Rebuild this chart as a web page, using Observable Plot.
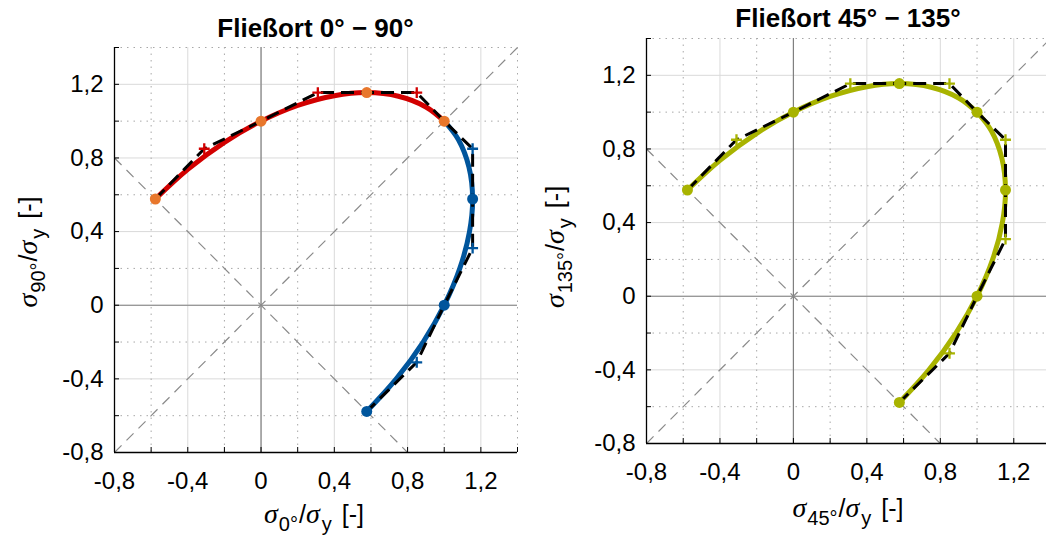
<!DOCTYPE html>
<html><head><meta charset="utf-8">
<script src="https://cdn.jsdelivr.net/npm/d3@7"></script>
<script src="https://cdn.jsdelivr.net/npm/@observablehq/plot@0.6"></script>
<style>
html,body{margin:0;padding:0;background:#fff;overflow:hidden}
#wrap{position:relative;width:1046px;height:543px;overflow:hidden;background:#fff;font-family:"Liberation Sans",Arial,sans-serif}
#wrap > svg{position:absolute}
</style></head><body><div id="wrap"></div>
<script>
// ---- data ----
const majorTicks = [-0.8, -0.4, 0, 0.4, 0.8, 1.2];
const minorTicks = [-0.6, -0.2, 0.2, 0.6, 1.0, 1.4];
const allTicks = [-0.8, -0.6, -0.4, -0.2, 0, 0.2, 0.4, 0.6, 0.8, 1.0, 1.2, 1.4];
const axisDomain = [-0.8, 1.4];
const diagX = [-0.8, 1.4], diagY = [-0.8, 1.4];
const antiX = [-0.8, 0.8], antiY = [0.8, -0.8];
// curve read along the upper arc (0°-side up to the equi-biaxial point)
const upperArcX = [-0.577, -0.4, -0.2, 0, 0.2, 0.4, 0.577, 0.75, 0.9, 1.0];
const upperArcY = [0.577, 0.738, 0.885, 1.0, 1.085, 1.138, 1.155, 1.135, 1.077, 1.0];
// curve read along the lower arc
const lowerArcX = [1.0, 1.077, 1.135, 1.155, 1.138, 1.085, 1.0, 0.885, 0.738, 0.577];
const lowerArcY = [1.0, 0.9, 0.75, 0.577, 0.4, 0.2, 0, -0.2, -0.4, -0.577];
const upperDotX = [-0.577, 0, 0.577, 1.0];
const upperDotY = [0.577, 1.0, 1.155, 1.0];
const lowerDotX = [1.155, 1.0, 0.577];
const lowerDotY = [0.577, 0, -0.577];
const upperPlusX = [-0.31, 0.31, 0.85];
const upperPlusY = [0.85, 1.155, 1.155];
const lowerPlusX = [1.155, 1.155, 0.85];
const lowerPlusY = [0.85, 0.31, -0.31];
const polyX = [-0.577, -0.31, 0, 0.31, 0.577, 0.85, 1.0, 1.155, 1.155, 1.155, 1.0, 0.85, 0.577];
const polyY = [0.577, 0.85, 1.0, 1.155, 1.155, 1.155, 1.0, 0.85, 0.577, 0.31, 0, -0.31, -0.577];

const RED = "#d20000", ORANGE = "#e8772c", BLUE = "#00559c", OLIVE = "#a8b300";

const pts = (xs, ys) => xs.map((x, i) => ({x, y: ys[i]}));
const fmt = d => d === 0 ? "0" : (d < 0 ? "-" : "") + Math.abs(d).toFixed(1).replace(".", ",");

function panel({left, w, h, ml, mr, mt, mb, curves, dots, pluses}) {
  const pw = w - ml - mr, ph = h - mt - mb;
  const marks = [
    Plot.ruleX(majorTicks, {stroke: "#dadada", strokeWidth: 1}),
    Plot.ruleY(majorTicks, {stroke: "#dadada", strokeWidth: 1}),
    Plot.ruleX(minorTicks, {stroke: "#a8a8a8", strokeWidth: 1, strokeDasharray: "1.5,5"}),
    Plot.ruleY(minorTicks, {stroke: "#a8a8a8", strokeWidth: 1, strokeDasharray: "1.5,5"}),
    Plot.ruleX([0], {stroke: "#808080", strokeWidth: 1.2}),
    Plot.ruleY([0], {stroke: "#808080", strokeWidth: 1.2}),
    Plot.line(pts(diagX, diagY), {x: "x", y: "y", stroke: "#8a8a8a", strokeWidth: 1.2, strokeDasharray: "10,7", strokeLinecap: "butt"}),
    Plot.line(pts(antiX, antiY), {x: "x", y: "y", stroke: "#8a8a8a", strokeWidth: 1.2, strokeDasharray: "10,7", strokeLinecap: "butt"}),
    Plot.ruleX([axisDomain[0]], {stroke: "black", strokeWidth: 1.3}),
    Plot.ruleY([axisDomain[0]], {stroke: "black", strokeWidth: 1.3}),
    Plot.tickX(allTicks, {x: d => d, stroke: "black", strokeWidth: 1, insetTop: ph - 5}),
    Plot.tickY(allTicks, {y: d => d, stroke: "black", strokeWidth: 1, insetRight: pw - 5}),
    Plot.axisX({ticks: majorTicks, tickFormat: fmt, tickSize: 0, tickPadding: 19, fontSize: 24, label: null, fill: "black"}),
    Plot.axisY({ticks: majorTicks, tickFormat: fmt, tickSize: 0, tickPadding: 11, fontSize: 24, label: null, fill: "black"}),
  ];
  for (const c of curves) marks.push(Plot.line(pts(c.xs, c.ys), {x: "x", y: "y", stroke: c.color, strokeWidth: 5, curve: "catmull-rom"}));
  marks.push(Plot.line(pts(polyX, polyY), {x: "x", y: "y", stroke: "black", strokeWidth: 3, strokeDasharray: "13,7", strokeLinecap: "butt"}));
  for (const d of dots) marks.push(Plot.dot(pts(d.xs, d.ys), {x: "x", y: "y", fill: d.color, r: 5.5}));
  for (const p of pluses) marks.push(Plot.dot(pts(p.xs, p.ys), {x: "x", y: "y", symbol: "plus", stroke: p.color, strokeWidth: 2.3, r: 3.6}));
  const svg = Plot.plot({
    width: w, height: h, marginLeft: ml, marginRight: mr, marginTop: mt, marginBottom: mb,
    x: {domain: axisDomain, axis: null},
    y: {domain: axisDomain, axis: null},
    style: {fontFamily: "Liberation Sans, Arial, sans-serif", background: "transparent", overflow: "visible"},
    marks
  });
  svg.style.left = left + "px";
  svg.style.top = "0px";
  document.getElementById("wrap").appendChild(svg);
}

panel({left: 0, w: 530, h: 543, ml: 114, mr: 13, mt: 47, mb: 91,
  curves: [{xs: lowerArcX, ys: lowerArcY, color: BLUE}, {xs: upperArcX, ys: upperArcY, color: RED}],
  dots: [{xs: lowerDotX, ys: lowerDotY, color: BLUE}, {xs: upperDotX, ys: upperDotY, color: ORANGE}],
  pluses: [{xs: upperPlusX, ys: upperPlusY, color: RED}, {xs: lowerPlusX, ys: lowerPlusY, color: BLUE}]
});
panel({left: 530, w: 530, h: 543, ml: 116, mr: 10, mt: 38, mb: 100,
  curves: [{xs: upperArcX.concat(lowerArcX), ys: upperArcY.concat(lowerArcY), color: OLIVE}],
  dots: [{xs: upperDotX.concat(lowerDotX), ys: upperDotY.concat(lowerDotY), color: OLIVE}],
  pluses: [{xs: upperPlusX.concat(lowerPlusX), ys: upperPlusY.concat(lowerPlusY), color: OLIVE}]
});

// ---- text overlay ----
const ov = d3.select("#wrap").append("svg")
  .attr("width", 1046).attr("height", 543)
  .style("left", "0px").style("top", "0px")
  .attr("font-family", "Liberation Sans, Arial, sans-serif");

function title(x, y, txt) {
  ov.append("text").attr("x", x).attr("y", y).attr("text-anchor", "middle")
    .attr("font-size", 26).attr("font-weight", "bold").attr("fill", "black").text(txt);
}
function axLabel(x, y, rot, sub) {
  const t = ov.append("text").attr("x", x).attr("y", y).attr("text-anchor", "middle")
    .attr("font-size", 25).attr("fill", "black");
  if (rot) t.attr("transform", `rotate(-90 ${x} ${y})`);
  t.append("tspan").attr("font-family", "Liberation Serif, serif").attr("font-style", "italic").attr("font-size", 28).text("σ");
  t.append("tspan").attr("font-size", 20).attr("dy", 8).attr("dx", 1).text(sub);
  t.append("tspan").attr("dy", -8).attr("dx", 1).text("/");
  t.append("tspan").attr("font-family", "Liberation Serif, serif").attr("font-style", "italic").attr("font-size", 28).text("σ");
  t.append("tspan").attr("font-size", 20).attr("dy", 8).attr("dx", 2).text("y");
  t.append("tspan").attr("dy", -8).attr("dx", 10).text("[-]");
}
title(315.5, 36.5, "Fließort 0° − 90°");
title(848, 27, "Fließort 45° − 135°");
axLabel(314, 523, false, "0°");
axLabel(848, 517, false, "45°");
axLabel(37, 252, true, "90°");
axLabel(564, 247, true, "135°");
</script></body></html>
